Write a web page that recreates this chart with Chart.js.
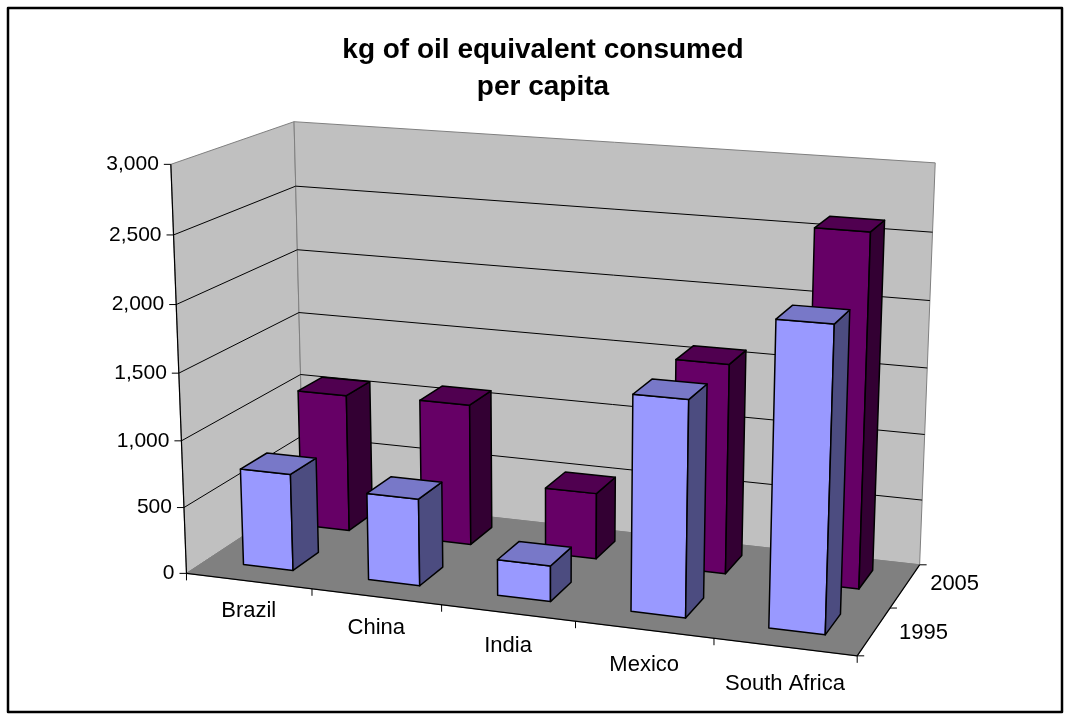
<!DOCTYPE html>
<html>
<head>
<meta charset="utf-8">
<script src="https://cdn.jsdelivr.net/npm/chart.js@4.4.1/dist/chart.umd.min.js"></script>
<style>
  html, body { margin: 0; padding: 0; background: #ffffff; }
  canvas { display: block; }
</style>
</head>
<body>
<canvas id="chart" width="1071" height="721"></canvas>
<script>
// ---- Data ----
const categories = ['Brazil', 'China', 'India', 'Mexico', 'South Africa'];
const seriesNames = ['1995', '2005'];
const values1995 = [730, 650, 265, 1570, 2180];
const values2005 = [1065, 1085, 505, 1575, 2610];
const valueTicks = [0, 500, 1000, 1500, 2000, 2500, 3000];
const titleLines = ['kg of oil equivalent consumed', 'per capita'];

// ---- Styles / layout of the 3D frame ----
const FONT = '"Liberation Sans", Arial, Helvetica, sans-serif';
const seriesColors = [
  { front: '#9999FF', top: '#7878C8', side: '#4C4C80' },
  { front: '#660066', top: '#500050', side: '#330033' }
];
// reference frame points: [u, w, h, x, y]
const frameRefs = [
  [0, 0, 0, 187, 569],
  [0, 0, 1, 170, 165],
  [1, 0, 0, 858, 656],
  [0, 1, 0, 303, 498],
  [0, 1, 1, 295, 121],
  [1, 1, 0, 920, 563],
  [1, 1, 1, 935, 163],
  [0.2, 0, 0, 312, 592],
  [1, 0.5, 0, 889, 609]
];

function solveCamera(refs) {
  const cx = 535, cy = 360, sc = 500;
  const rows = [], rhs = [];
  refs.forEach(([u, w, h, x, y]) => {
    const X = (x - cx) / sc, Y = (y - cy) / sc;
    rows.push([u, w, h, 1, 0, 0, 0, 0, -X * u, -X * w, -X * h]); rhs.push(X);
    rows.push([0, 0, 0, 0, u, w, h, 1, -Y * u, -Y * w, -Y * h]); rhs.push(Y);
  });
  const n = 11;
  const M = [];
  for (let i = 0; i < n; i++) {
    M.push(new Array(n + 1).fill(0));
    for (let j = 0; j < n; j++) {
      let s = 0;
      for (let k = 0; k < rows.length; k++) s += rows[k][i] * rows[k][j];
      M[i][j] = s;
    }
    let s = 0;
    for (let k = 0; k < rows.length; k++) s += rows[k][i] * rhs[k];
    M[i][n] = s;
  }
  for (let c = 0; c < n; c++) {
    let p = c;
    for (let r = c + 1; r < n; r++) if (Math.abs(M[r][c]) > Math.abs(M[p][c])) p = r;
    [M[c], M[p]] = [M[p], M[c]];
    for (let r = 0; r < n; r++) {
      if (r === c) continue;
      const f = M[r][c] / M[c][c];
      for (let k = c; k <= n; k++) M[r][k] -= f * M[c][k];
    }
  }
  const P = M.map((r, i) => r[n] / r[i]);
  return function (u, w, h) {
    const d = P[8] * u + P[9] * w + P[10] * h + 1;
    const X = (P[0] * u + P[1] * w + P[2] * h + P[3]) / d;
    const Y = (P[4] * u + P[5] * w + P[6] * h + P[7]) / d;
    return [X * sc + cx, Y * sc + cy];
  };
}
const project = solveCamera(frameRefs);

function poly(ctx, pts, fill, stroke, lw) {
  ctx.beginPath();
  pts.forEach((p, i) => {
    const q = project(p[0], p[1], p[2]);
    if (i === 0) ctx.moveTo(q[0], q[1]); else ctx.lineTo(q[0], q[1]);
  });
  ctx.closePath();
  if (fill) { ctx.fillStyle = fill; ctx.fill(); }
  if (stroke) { ctx.strokeStyle = stroke; ctx.lineWidth = lw || 1; ctx.stroke(); }
}
function line(ctx, a, b, color, lw) {
  const p = project(a[0], a[1], a[2]), q = project(b[0], b[1], b[2]);
  ctx.beginPath(); ctx.moveTo(p[0], p[1]); ctx.lineTo(q[0], q[1]);
  ctx.strokeStyle = color; ctx.lineWidth = lw || 1; ctx.stroke();
}

const scenePlugin = {
  id: 'scene3d',
  beforeDraw(chart) {
    const ctx = chart.ctx;
    ctx.save();
    ctx.fillStyle = '#ffffff';
    ctx.fillRect(0, 0, chart.width, chart.height);
    ctx.restore();
  },
  afterDraw(chart) {
    const ctx = chart.ctx;
    const xs = chart.scales.x, ys = chart.scales.y;
    const uOf = (i) => (xs.getPixelForValue(i) - xs.left) / (xs.right - xs.left);
    const hOf = (v) => (ys.bottom - ys.getPixelForValue(v)) / (ys.bottom - ys.top);
    const nCat = chart.data.labels.length;
    const nSer = chart.data.datasets.length;
    ctx.save();
    ctx.lineJoin = 'round';

    // walls and floor
    poly(ctx, [[0, 0, 0], [0, 1, 0], [0, 1, 1], [0, 0, 1]], '#C0C0C0', '#808080', 1);
    poly(ctx, [[0, 1, 0], [1, 1, 0], [1, 1, 1], [0, 1, 1]], '#C0C0C0', '#808080', 1);
    poly(ctx, [[0, 0, 0], [1, 0, 0], [1, 1, 0], [0, 1, 0]], '#808080', '#808080', 1);

    // gridlines
    valueTicks.forEach(v => {
      const h = hOf(v);
      if (h <= 0 || h >= 1) return;
      line(ctx, [0, 0, h], [0, 1, h], '#000000', 1);
      line(ctx, [0, 1, h], [1, 1, h], '#000000', 1);
    });

    // axes
    line(ctx, [0, 0, 0], [0, 0, 1], '#000000', 1.2);
    line(ctx, [0, 0, 0], [1, 0, 0], '#000000', 1.2);
    line(ctx, [1, 0, 0], [1, 1, 0], '#000000', 1.2);
    ctx.strokeStyle = '#000000';
    ctx.lineWidth = 1;
    valueTicks.forEach(v => {
      const p = project(0, 0, hOf(v));
      ctx.beginPath(); ctx.moveTo(p[0] - 7, p[1]); ctx.lineTo(p[0], p[1]); ctx.stroke();
    });
    for (let i = 0; i <= nCat; i++) {
      const p = project(i / nCat, 0, 0);
      ctx.beginPath(); ctx.moveTo(p[0], p[1]); ctx.lineTo(p[0], p[1] + 7); ctx.stroke();
    }
    for (let s = 0; s <= nSer; s++) {
      const p = project(1, s / nSer, 0);
      ctx.beginPath(); ctx.moveTo(p[0], p[1]); ctx.lineTo(p[0] + 7, p[1]); ctx.stroke();
    }

    // bars, back row first
    const halfU = 0.4 / nCat / 2;
    const halfW = 0.44 / nSer / 2;
    for (let s = nSer - 1; s >= 0; s--) {
      const ds = chart.data.datasets[s];
      const col = seriesColors[s];
      const wc = (s + 0.54) / nSer;
      const w0 = wc - halfW, w1 = wc + halfW;
      for (let i = 0; i < nCat; i++) {
        const uc = uOf(i);
        const u0 = uc - halfU, u1 = uc + halfU;
        const h = hOf(ds.data[i]);
        poly(ctx, [[u0, w0, 0], [u1, w0, 0], [u1, w0, h], [u0, w0, h]], col.front, '#000000', 1.5);
        poly(ctx, [[u1, w0, 0], [u1, w1, 0], [u1, w1, h], [u1, w0, h]], col.side, '#000000', 1.5);
        poly(ctx, [[u0, w0, h], [u1, w0, h], [u1, w1, h], [u0, w1, h]], col.top, '#000000', 1.5);
      }
    }

    // labels
    ctx.fillStyle = '#000000';
    ctx.font = '21px ' + FONT;
    ctx.textAlign = 'right';
    ctx.textBaseline = 'middle';
    valueTicks.forEach(v => {
      const p = project(0, 0, hOf(v));
      ctx.fillText(v.toLocaleString('en-US'), p[0] - 12, p[1]);
    });
    ctx.font = '22px ' + FONT;
    ctx.textAlign = 'center';
    chart.data.labels.forEach((lab, i) => {
      const u = uOf(i);
      const p = project(u, 0, 0);
      ctx.fillText(lab, p[0], p[1] + 29 + 9 * u);
    });
    ctx.textAlign = 'left';
    chart.data.datasets.forEach((ds, s) => {
      const wc = (s + 0.5) / nSer;
      const p = project(1, wc, 0);
      ctx.fillText(ds.label, p[0] + 25, p[1] + 4 - 8 * wc);
    });

    // title
    ctx.textAlign = 'center';
    ctx.font = 'bold 28px ' + FONT;
    ctx.fillText(titleLines[0], 543, 50);
    ctx.fillText(titleLines[1], 543, 87);

    // outer border
    ctx.strokeStyle = '#000000';
    ctx.lineWidth = 2.5;
    ctx.strokeRect(8, 8, 1054, 704);
    ctx.restore();
  }
};

new Chart(document.getElementById('chart').getContext('2d'), {
  type: 'bar',
  data: {
    labels: categories,
    datasets: [
      { label: seriesNames[0], data: values1995, backgroundColor: 'rgba(0,0,0,0)', borderWidth: 0 },
      { label: seriesNames[1], data: values2005, backgroundColor: 'rgba(0,0,0,0)', borderWidth: 0 }
    ]
  },
  options: {
    responsive: false,
    animation: false,
    devicePixelRatio: 1,
    events: [],
    layout: { padding: 0 },
    plugins: { legend: { display: false }, title: { display: false }, tooltip: { enabled: false } },
    scales: {
      x: { display: false },
      y: { display: false, min: 0, max: 3000 }
    }
  },
  plugins: [scenePlugin]
});
</script>
</body>
</html>
